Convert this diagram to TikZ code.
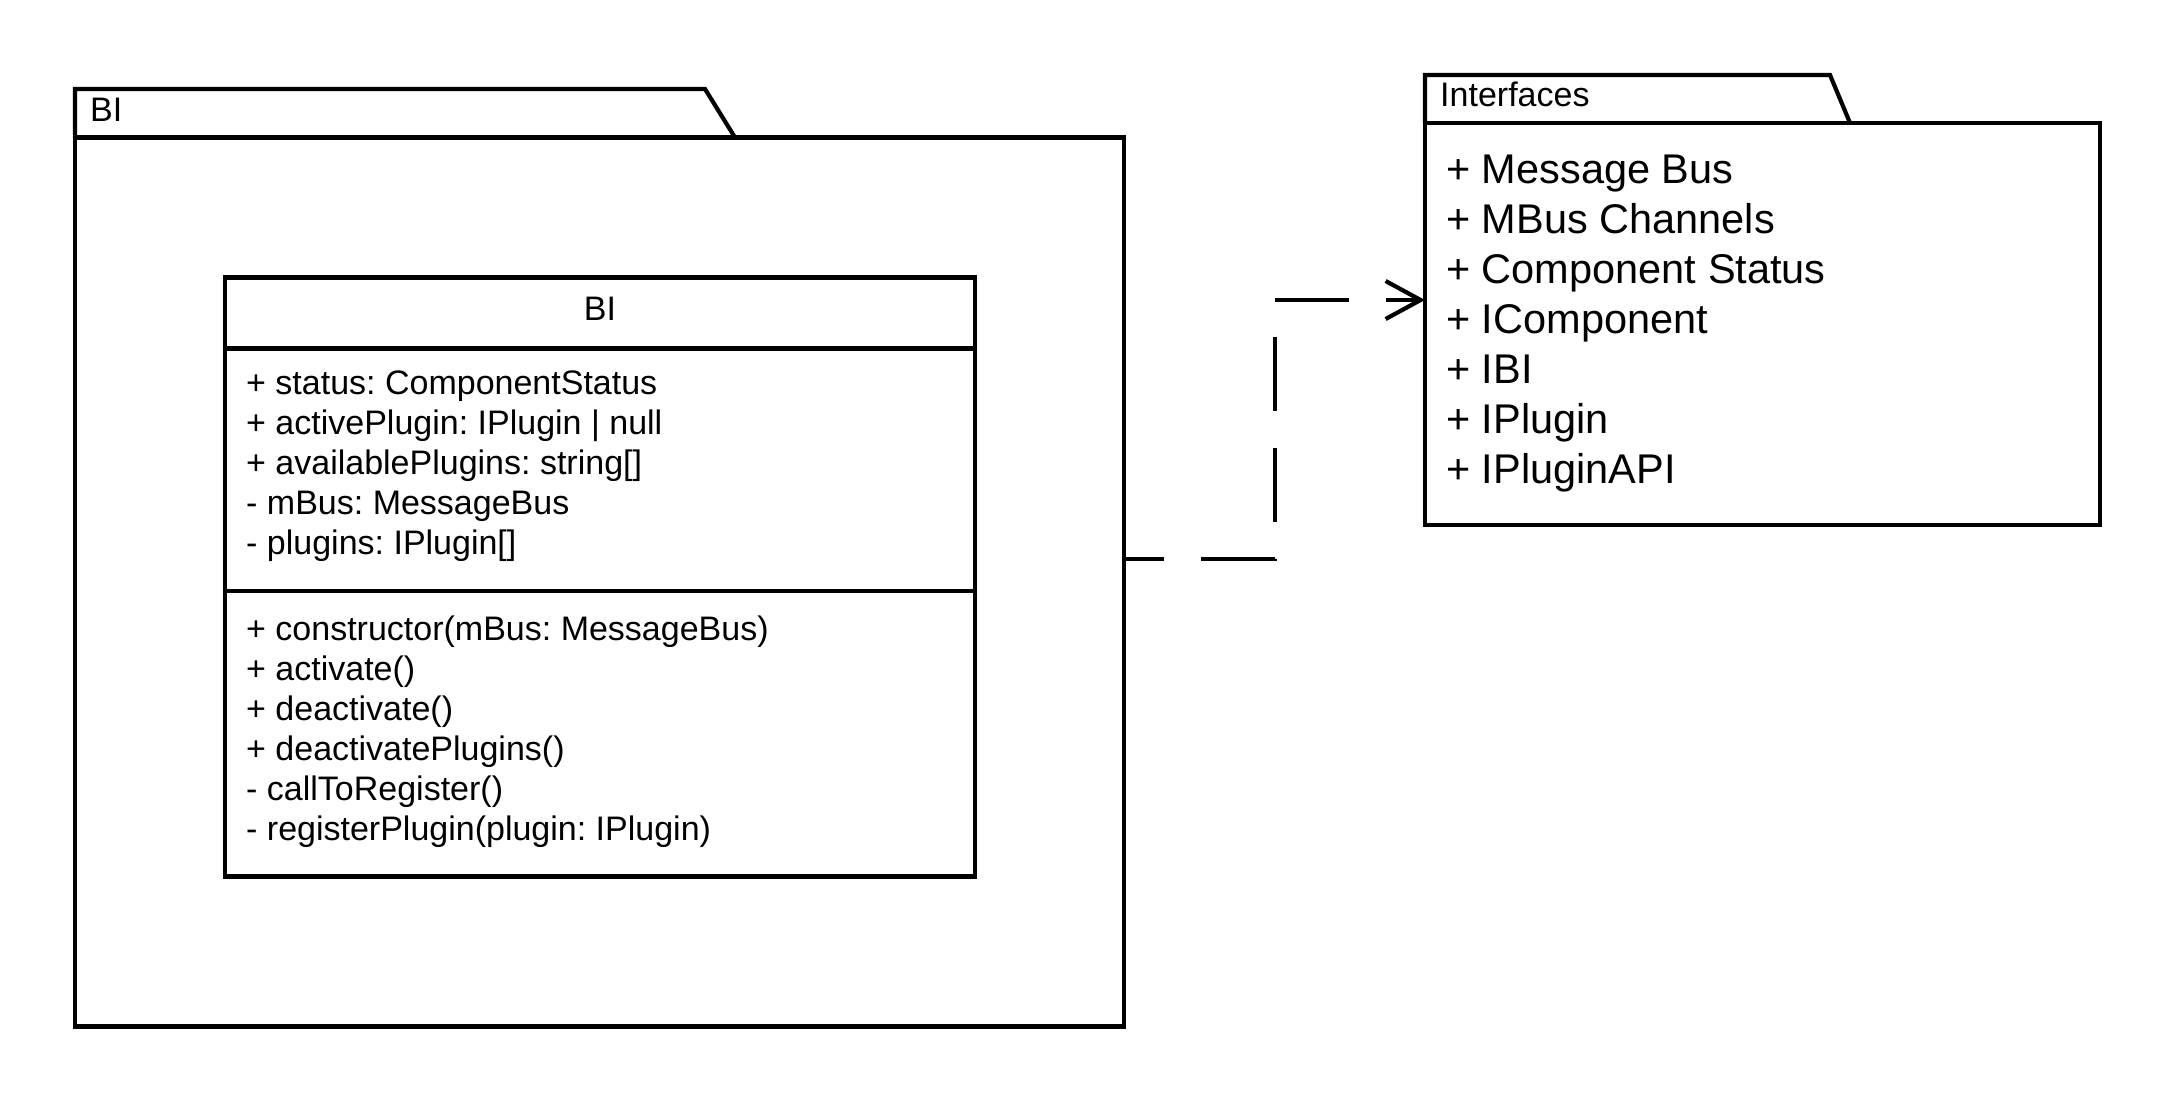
\documentclass[tikz,border=0pt]{standalone}
\usepackage{fontspec}
\setmainfont{Liberation Sans}
\usetikzlibrary{arrows.meta}
\frenchspacing
\tikzset{
  umlline/.style={line width=4.2pt, line join=miter},
  box/.style={draw, line width=4.2pt, inner sep=0pt, outer sep=0pt, anchor=north west},
  txt/.style={inner sep=0pt, anchor=base west, font=\fontsize{34}{40}\selectfont},
  bigtxt/.style={txt, font=\fontsize{41.5}{50}\selectfont},
  depend/.style={line width=4.2pt, dash pattern=on 74pt off 37pt, dash phase=34pt,
    -{Straight Barb[length=35pt, width=38pt, line width=4.2pt]}}
}
\begin{document}
\begin{tikzpicture}[x=1pt,y=-1pt]
\useasboundingbox (0,0) rectangle (2175,1103);

% package BI with its tab
\node[box, minimum width=1049pt, minimum height=889pt] (pkgBI) at (75,137.5) {};
\draw[umlline] (pkgBI.north west) -- (75,89) -- (705,89) -- (735,137.5);
\node[txt] (pkgBIlabel) at (90,121) {BI};

% class BI
\node[box, minimum width=750pt, minimum height=599pt] (cls) at (225,277.5) {};
\draw[umlline] ([yshift=-71pt]cls.north west) -- ([yshift=-71pt]cls.north east);
\draw[umlline] ([yshift=-313.5pt]cls.north west) -- ([yshift=-313.5pt]cls.north east);
\node[txt, anchor=base] (clsname) at (600,320) {BI};
\foreach \t [count=\i from 0] in {{+ status: ComponentStatus},{+ activePlugin: IPlugin | null},{+ availablePlugins: string[]},{- mBus: MessageBus},{- plugins: IPlugin[]}}
  \node[txt] (attr\i) at (246,394+40*\i) {\t};
\foreach \t [count=\i from 0] in {{+ constructor(mBus: MessageBus)},{+ activate()},{+ deactivate()},{+ deactivatePlugins()},{- callToRegister()},{- registerPlugin(plugin: IPlugin)}}
  \node[txt] (meth\i) at (246,640+40*\i) {\t};

% package Interfaces with its tab
\node[box, minimum width=675pt, minimum height=402pt] (pkgIf) at (1425,123) {};
\draw[umlline] (pkgIf.north west) -- (1425,75) -- (1830,75) -- (1850,123);
\node[txt] (pkgIflabel) at (1440,106) {Interfaces};
\foreach \t [count=\i from 0] in {{+ Message Bus},{+ MBus Channels},{+ Component Status},{+ IComponent},{+ IBI},{+ IPlugin},{+ IPluginAPI}}
  \node[bigtxt] (item\i) at (1446,183+50*\i) {\t};

% dependency
\draw[depend] ([yshift=23pt]pkgBI.east) -- ++(151,0) |- ([yshift=24pt]pkgIf.west);
\end{tikzpicture}
\end{document}
